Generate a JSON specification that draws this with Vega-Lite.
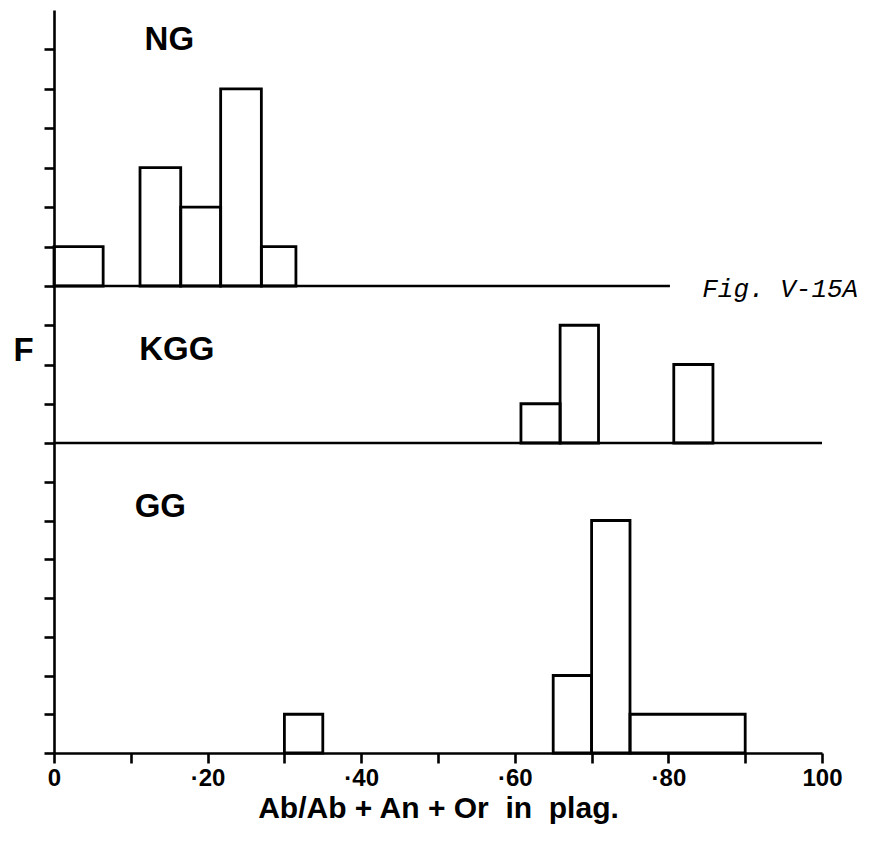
{
  "$schema": "https://vega.github.io/schema/vega-lite/v6.json",
  "padding": {"left": 12, "top": 10, "right": 5, "bottom": 5},
  "background": "white",
  "spacing": 0,
  "bounds": "flush",
  "config": {
    "view": {"stroke": null},
    "font": "Liberation Sans",
    "axis": {"domainColor": "black", "domainWidth": 2.6, "tickColor": "black", "tickWidth": 2.6, "tickSize": 10, "grid": false, "labelColor": "black", "titleColor": "black"}
  },
  "datasets": {
    "ng": [
      {"x0": 0, "x1": 6.4, "count": 1},
      {"x0": 11.2, "x1": 16.5, "count": 3},
      {"x0": 16.5, "x1": 21.7, "count": 2},
      {"x0": 21.7, "x1": 27, "count": 5},
      {"x0": 27, "x1": 31.5, "count": 1}
    ],
    "kgg": [
      {"x0": 60.8, "x1": 65.9, "count": 1},
      {"x0": 65.9, "x1": 70.9, "count": 3},
      {"x0": 80.7, "x1": 85.8, "count": 2}
    ],
    "gg": [
      {"x0": 30, "x1": 35, "count": 1},
      {"x0": 65, "x1": 70, "count": 2},
      {"x0": 70, "x1": 75, "count": 6},
      {"x0": 75, "x1": 90, "count": 1}
    ]
  },
  "vconcat": [
    {
      "width": 768,
      "height": 276,
      "layer": [
        {
          "data": {"name": "ng"},
          "mark": {"type": "rect", "filled": false, "stroke": "black", "strokeWidth": 2.8},
          "encoding": {
            "x": {"field": "x0", "type": "quantitative", "scale": {"domain": [0, 100], "nice": false}, "axis": null},
            "x2": {"field": "x1"},
            "y": {"field": "count", "type": "quantitative", "scale": {"domain": [0, 7], "nice": false}, "axis": {"values": [0, 1, 2, 3, 4, 5, 6], "labels": false, "title": null}},
            "y2": {"datum": 0}
          }
        },
        {
          "data": {"values": [{}]},
          "mark": {"type": "rule", "stroke": "black", "strokeWidth": 2.6},
          "encoding": {"x": {"datum": 0}, "x2": {"datum": 80.2}, "y": {"datum": 0}}
        },
        {
          "data": {"values": [{"label": "NG"}]},
          "mark": {"type": "text", "align": "left", "baseline": "middle", "fontSize": 33, "fontWeight": "bold", "color": "black"},
          "encoding": {"x": {"datum": 11.8}, "y": {"datum": 6.25}, "text": {"field": "label"}}
        },
        {
          "data": {"values": [{"label": "Fig. V-15A"}]},
          "mark": {"type": "text", "align": "left", "baseline": "middle", "fontSize": 26, "fontStyle": "italic", "font": "Liberation Mono", "color": "black", "dy": 3},
          "encoding": {"x": {"datum": 84.4}, "y": {"datum": 0}, "text": {"field": "label"}}
        }
      ]
    },
    {
      "width": 768,
      "height": 157,
      "layer": [
        {
          "data": {"name": "kgg"},
          "mark": {"type": "rect", "filled": false, "stroke": "black", "strokeWidth": 2.8},
          "encoding": {
            "x": {"field": "x0", "type": "quantitative", "scale": {"domain": [0, 100], "nice": false}, "axis": null},
            "x2": {"field": "x1"},
            "y": {"field": "count", "type": "quantitative", "scale": {"domain": [0, 4], "nice": false}, "axis": {"values": [0, 1, 2, 3], "labels": false, "title": "F", "titleAngle": 0, "titleFontSize": 33, "titleFontWeight": "bold", "titleAlign": "center", "titleBaseline": "middle", "titleX": -31, "titleY": 64}},
            "y2": {"datum": 0}
          }
        },
        {
          "data": {"values": [{}]},
          "mark": {"type": "rule", "stroke": "black", "strokeWidth": 2.6},
          "encoding": {"x": {"datum": 0}, "x2": {"datum": 100}, "y": {"datum": 0}}
        },
        {
          "data": {"values": [{"label": "KGG"}]},
          "mark": {"type": "text", "align": "left", "baseline": "middle", "fontSize": 33, "fontWeight": "bold", "color": "black"},
          "encoding": {"x": {"datum": 11.1}, "y": {"datum": 2.36}, "text": {"field": "label"}}
        }
      ]
    },
    {
      "width": 768,
      "height": 310,
      "layer": [
        {
          "data": {"name": "gg"},
          "mark": {"type": "rect", "filled": false, "stroke": "black", "strokeWidth": 2.8},
          "encoding": {
            "x": {"field": "x0", "type": "quantitative", "scale": {"domain": [0, 100], "nice": false},
              "axis": {"values": [0, 10, 20, 30, 40, 50, 60, 70, 80, 90, 100], "labelExpr": "datum.value % 20 != 0 ? '' : (datum.value == 0 ? '0' : (datum.value == 100 ? '100' : '·' + datum.value))", "labelFontSize": 24, "labelFontWeight": "bold", "labelPadding": 3, "labelFlush": false, "title": "Ab/Ab + An + Or\u00a0 in\u00a0 plag.", "titleFontSize": 30, "titleFontWeight": "bold", "titlePadding": 3}},
            "x2": {"field": "x1"},
            "y": {"field": "count", "type": "quantitative", "scale": {"domain": [0, 8], "nice": false}, "axis": {"values": [0, 1, 2, 3, 4, 5, 6, 7], "labels": false, "title": null}},
            "y2": {"datum": 0}
          }
        },
        {
          "data": {"values": [{"label": "GG"}]},
          "mark": {"type": "text", "align": "left", "baseline": "middle", "fontSize": 33, "fontWeight": "bold", "color": "black"},
          "encoding": {"x": {"datum": 10.5}, "y": {"datum": 6.34}, "text": {"field": "label"}}
        }
      ]
    }
  ]
}
